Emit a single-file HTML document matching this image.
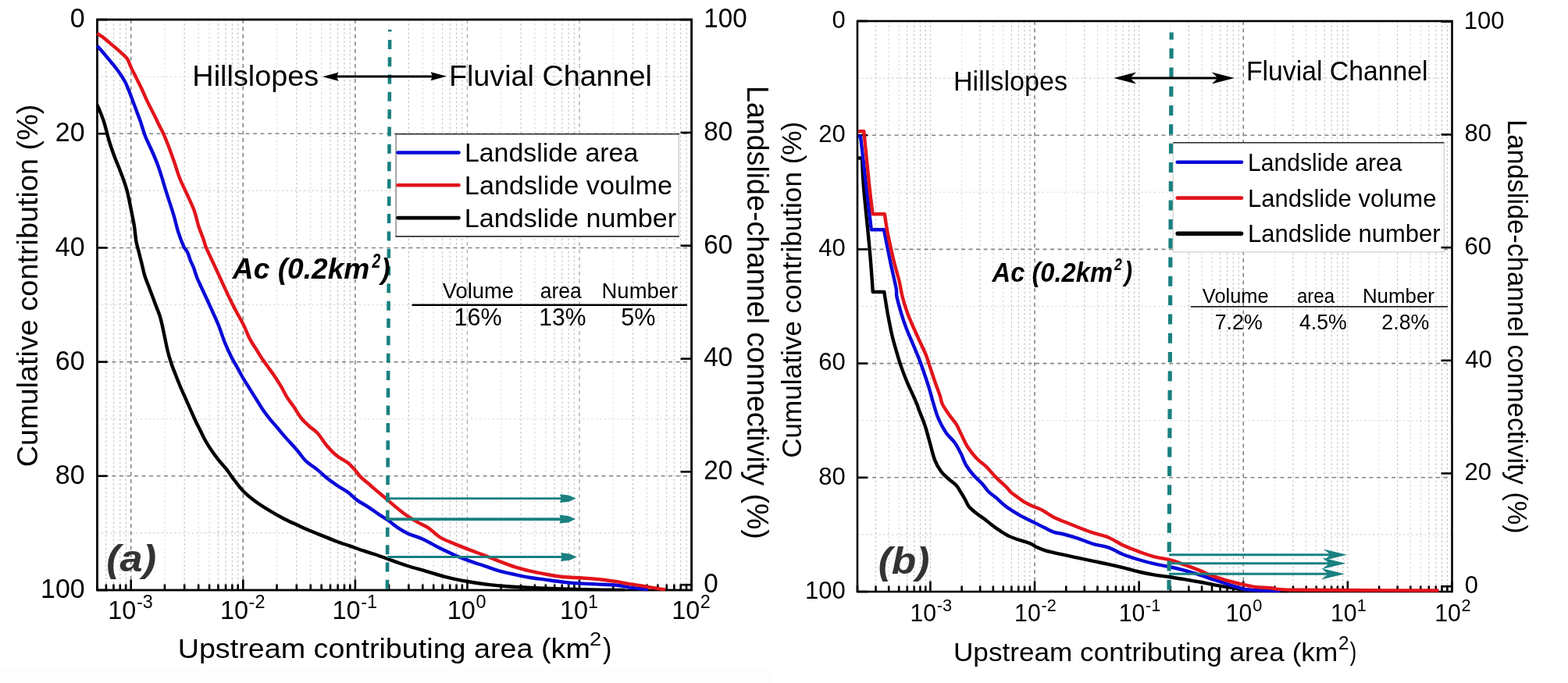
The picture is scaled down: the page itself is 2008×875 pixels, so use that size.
<!DOCTYPE html>
<html><head><meta charset="utf-8"><title>Cumulative contribution vs upstream contributing area</title>
<style>
html,body{margin:0;padding:0;background:#fff;overflow:hidden;width:2008px;height:875px;}
svg{display:block;font-family:"Liberation Sans",Arial,sans-serif;}
.gmin{stroke:#c0c0c0;stroke-width:1.1;stroke-dasharray:2.5 3;fill:none}
.gmin2{stroke:#e2e2e2;stroke-width:1.1;stroke-dasharray:2.5 3;fill:none}
.gmin45{stroke:#d6d6d6;stroke-width:1.1;stroke-dasharray:2.5 3;fill:none}
.gminh{stroke:#d8d8d8;stroke-width:1.1;stroke-dasharray:2.5 3;fill:none}
.gmajl{stroke:#b0b0b0;stroke-width:1.4;stroke-dasharray:5 4.5;fill:none}
.gmaj{stroke:#858585;stroke-width:1.6;stroke-dasharray:5 4.5;fill:none}
.tick{stroke:#000;stroke-width:2.6}
.frame{fill:none;stroke:#000;stroke-width:2.8}
</style></head><body>
<svg width="2008" height="875" viewBox="0 0 2008 875">
<defs>
<clipPath id="cA"><rect x="124.5" y="25.1" width="761.1" height="730.9"/></clipPath>
<clipPath id="cB"><rect x="1098.0" y="27.0" width="761.5" height="731.0"/></clipPath>
<clipPath id="cA2"><rect x="123.1" y="25.1" width="762.5" height="732.1"/></clipPath>
<clipPath id="cB2"><rect x="1096.6" y="27.0" width="762.9" height="732.2"/></clipPath>
</defs>
<rect width="2008" height="875" fill="#fff"/>
<rect x="0" y="854" width="987" height="21" fill="#fdfdfd"/>
<g clip-path="url(#cA)">
<line x1="124.5" y1="98.19" x2="885.6" y2="98.19" class="gminh"/>
<line x1="124.5" y1="244.37" x2="885.6" y2="244.37" class="gminh"/>
<line x1="124.5" y1="390.55" x2="885.6" y2="390.55" class="gminh"/>
<line x1="124.5" y1="536.73" x2="885.6" y2="536.73" class="gminh"/>
<line x1="124.5" y1="682.91" x2="885.6" y2="682.91" class="gminh"/>
<line x1="124.50" y1="25.1" x2="124.50" y2="756.0" class="gmin45"/>
<line x1="135.87" y1="25.1" x2="135.87" y2="756.0" class="gmin"/>
<line x1="145.48" y1="25.1" x2="145.48" y2="756.0" class="gmin"/>
<line x1="153.81" y1="25.1" x2="153.81" y2="756.0" class="gmin"/>
<line x1="161.15" y1="25.1" x2="161.15" y2="756.0" class="gmin"/>
<line x1="210.94" y1="25.1" x2="210.94" y2="756.0" class="gmin2"/>
<line x1="236.22" y1="25.1" x2="236.22" y2="756.0" class="gmin"/>
<line x1="254.16" y1="25.1" x2="254.16" y2="756.0" class="gmin45"/>
<line x1="268.08" y1="25.1" x2="268.08" y2="756.0" class="gmin45"/>
<line x1="279.44" y1="25.1" x2="279.44" y2="756.0" class="gmin"/>
<line x1="289.06" y1="25.1" x2="289.06" y2="756.0" class="gmin"/>
<line x1="297.38" y1="25.1" x2="297.38" y2="756.0" class="gmin"/>
<line x1="304.73" y1="25.1" x2="304.73" y2="756.0" class="gmin"/>
<line x1="354.52" y1="25.1" x2="354.52" y2="756.0" class="gmin2"/>
<line x1="379.80" y1="25.1" x2="379.80" y2="756.0" class="gmin"/>
<line x1="397.74" y1="25.1" x2="397.74" y2="756.0" class="gmin45"/>
<line x1="411.65" y1="25.1" x2="411.65" y2="756.0" class="gmin45"/>
<line x1="423.02" y1="25.1" x2="423.02" y2="756.0" class="gmin"/>
<line x1="432.63" y1="25.1" x2="432.63" y2="756.0" class="gmin"/>
<line x1="440.96" y1="25.1" x2="440.96" y2="756.0" class="gmin"/>
<line x1="448.30" y1="25.1" x2="448.30" y2="756.0" class="gmin"/>
<line x1="498.09" y1="25.1" x2="498.09" y2="756.0" class="gmin2"/>
<line x1="523.38" y1="25.1" x2="523.38" y2="756.0" class="gmin"/>
<line x1="541.31" y1="25.1" x2="541.31" y2="756.0" class="gmin45"/>
<line x1="555.23" y1="25.1" x2="555.23" y2="756.0" class="gmin45"/>
<line x1="566.60" y1="25.1" x2="566.60" y2="756.0" class="gmin"/>
<line x1="576.21" y1="25.1" x2="576.21" y2="756.0" class="gmin"/>
<line x1="584.53" y1="25.1" x2="584.53" y2="756.0" class="gmin"/>
<line x1="591.88" y1="25.1" x2="591.88" y2="756.0" class="gmin"/>
<line x1="641.67" y1="25.1" x2="641.67" y2="756.0" class="gmin2"/>
<line x1="666.95" y1="25.1" x2="666.95" y2="756.0" class="gmin"/>
<line x1="684.89" y1="25.1" x2="684.89" y2="756.0" class="gmin45"/>
<line x1="698.80" y1="25.1" x2="698.80" y2="756.0" class="gmin45"/>
<line x1="710.17" y1="25.1" x2="710.17" y2="756.0" class="gmin"/>
<line x1="719.78" y1="25.1" x2="719.78" y2="756.0" class="gmin"/>
<line x1="728.11" y1="25.1" x2="728.11" y2="756.0" class="gmin"/>
<line x1="735.45" y1="25.1" x2="735.45" y2="756.0" class="gmin"/>
<line x1="785.24" y1="25.1" x2="785.24" y2="756.0" class="gmin2"/>
<line x1="810.53" y1="25.1" x2="810.53" y2="756.0" class="gmin"/>
<line x1="828.47" y1="25.1" x2="828.47" y2="756.0" class="gmin45"/>
<line x1="842.38" y1="25.1" x2="842.38" y2="756.0" class="gmin45"/>
<line x1="853.75" y1="25.1" x2="853.75" y2="756.0" class="gmin"/>
<line x1="863.36" y1="25.1" x2="863.36" y2="756.0" class="gmin"/>
<line x1="871.69" y1="25.1" x2="871.69" y2="756.0" class="gmin"/>
<line x1="879.03" y1="25.1" x2="879.03" y2="756.0" class="gmin"/>
<line x1="124.5" y1="171.28" x2="885.6" y2="171.28" class="gmaj"/>
<line x1="124.5" y1="317.46" x2="885.6" y2="317.46" class="gmaj"/>
<line x1="124.5" y1="463.64" x2="885.6" y2="463.64" class="gmaj"/>
<line x1="124.5" y1="609.82" x2="885.6" y2="609.82" class="gmaj"/>
<line x1="167.72" y1="25.1" x2="167.72" y2="756.0" class="gmaj"/>
<line x1="311.30" y1="25.1" x2="311.30" y2="756.0" class="gmaj"/>
<line x1="454.87" y1="25.1" x2="454.87" y2="756.0" class="gmaj"/>
<line x1="598.45" y1="25.1" x2="598.45" y2="756.0" class="gmajl"/>
<line x1="742.02" y1="25.1" x2="742.02" y2="756.0" class="gmajl"/>
<line x1="885.60" y1="25.1" x2="885.60" y2="756.0" class="gmaj"/>
</g>
<rect x="507.1" y="171.7" width="362.3" height="131.2" fill="#fff"/>
<line x1="869.4" y1="171.7" x2="869.4" y2="302.9" stroke="#c8c8c8" stroke-width="1.3"/>
<line x1="507.1" y1="171.7" x2="507.1" y2="302.9" stroke="#8c8c8c" stroke-width="1.5"/>
<line x1="506.4" y1="171.7" x2="869.8" y2="171.7" stroke="#2a2a2a" stroke-width="1.6"/>
<line x1="506.4" y1="302.9" x2="869.8" y2="302.9" stroke="#333" stroke-width="1.7"/>
<rect class="frame" x="124.5" y="25.1" width="761.1" height="730.9"/>
<line x1="124.50" y1="756.0" x2="124.50" y2="748.50" class="tick"/>
<line x1="135.87" y1="756.0" x2="135.87" y2="748.50" class="tick"/>
<line x1="145.48" y1="756.0" x2="145.48" y2="748.50" class="tick"/>
<line x1="153.81" y1="756.0" x2="153.81" y2="748.50" class="tick"/>
<line x1="161.15" y1="756.0" x2="161.15" y2="748.50" class="tick"/>
<line x1="167.72" y1="756.0" x2="167.72" y2="742.50" class="tick"/>
<line x1="210.94" y1="756.0" x2="210.94" y2="748.50" class="tick"/>
<line x1="236.22" y1="756.0" x2="236.22" y2="748.50" class="tick"/>
<line x1="254.16" y1="756.0" x2="254.16" y2="748.50" class="tick"/>
<line x1="268.08" y1="756.0" x2="268.08" y2="748.50" class="tick"/>
<line x1="279.44" y1="756.0" x2="279.44" y2="748.50" class="tick"/>
<line x1="289.06" y1="756.0" x2="289.06" y2="748.50" class="tick"/>
<line x1="297.38" y1="756.0" x2="297.38" y2="748.50" class="tick"/>
<line x1="304.73" y1="756.0" x2="304.73" y2="748.50" class="tick"/>
<line x1="311.30" y1="756.0" x2="311.30" y2="742.50" class="tick"/>
<line x1="354.52" y1="756.0" x2="354.52" y2="748.50" class="tick"/>
<line x1="379.80" y1="756.0" x2="379.80" y2="748.50" class="tick"/>
<line x1="397.74" y1="756.0" x2="397.74" y2="748.50" class="tick"/>
<line x1="411.65" y1="756.0" x2="411.65" y2="748.50" class="tick"/>
<line x1="423.02" y1="756.0" x2="423.02" y2="748.50" class="tick"/>
<line x1="432.63" y1="756.0" x2="432.63" y2="748.50" class="tick"/>
<line x1="440.96" y1="756.0" x2="440.96" y2="748.50" class="tick"/>
<line x1="448.30" y1="756.0" x2="448.30" y2="748.50" class="tick"/>
<line x1="454.87" y1="756.0" x2="454.87" y2="742.50" class="tick"/>
<line x1="498.09" y1="756.0" x2="498.09" y2="748.50" class="tick"/>
<line x1="523.38" y1="756.0" x2="523.38" y2="748.50" class="tick"/>
<line x1="541.31" y1="756.0" x2="541.31" y2="748.50" class="tick"/>
<line x1="555.23" y1="756.0" x2="555.23" y2="748.50" class="tick"/>
<line x1="566.60" y1="756.0" x2="566.60" y2="748.50" class="tick"/>
<line x1="576.21" y1="756.0" x2="576.21" y2="748.50" class="tick"/>
<line x1="584.53" y1="756.0" x2="584.53" y2="748.50" class="tick"/>
<line x1="591.88" y1="756.0" x2="591.88" y2="748.50" class="tick"/>
<line x1="598.45" y1="756.0" x2="598.45" y2="742.50" class="tick"/>
<line x1="641.67" y1="756.0" x2="641.67" y2="748.50" class="tick"/>
<line x1="666.95" y1="756.0" x2="666.95" y2="748.50" class="tick"/>
<line x1="684.89" y1="756.0" x2="684.89" y2="748.50" class="tick"/>
<line x1="698.80" y1="756.0" x2="698.80" y2="748.50" class="tick"/>
<line x1="710.17" y1="756.0" x2="710.17" y2="748.50" class="tick"/>
<line x1="719.78" y1="756.0" x2="719.78" y2="748.50" class="tick"/>
<line x1="728.11" y1="756.0" x2="728.11" y2="748.50" class="tick"/>
<line x1="735.45" y1="756.0" x2="735.45" y2="748.50" class="tick"/>
<line x1="742.02" y1="756.0" x2="742.02" y2="742.50" class="tick"/>
<line x1="785.24" y1="756.0" x2="785.24" y2="748.50" class="tick"/>
<line x1="810.53" y1="756.0" x2="810.53" y2="748.50" class="tick"/>
<line x1="828.47" y1="756.0" x2="828.47" y2="748.50" class="tick"/>
<line x1="842.38" y1="756.0" x2="842.38" y2="748.50" class="tick"/>
<line x1="853.75" y1="756.0" x2="853.75" y2="748.50" class="tick"/>
<line x1="863.36" y1="756.0" x2="863.36" y2="748.50" class="tick"/>
<line x1="871.69" y1="756.0" x2="871.69" y2="748.50" class="tick"/>
<line x1="879.03" y1="756.0" x2="879.03" y2="748.50" class="tick"/>
<line x1="885.60" y1="756.0" x2="885.60" y2="742.50" class="tick"/>
<line x1="124.5" y1="25.10" x2="137.50" y2="25.10" class="tick"/>
<line x1="124.5" y1="171.28" x2="137.50" y2="171.28" class="tick"/>
<line x1="124.5" y1="317.46" x2="137.50" y2="317.46" class="tick"/>
<line x1="124.5" y1="463.64" x2="137.50" y2="463.64" class="tick"/>
<line x1="124.5" y1="609.82" x2="137.50" y2="609.82" class="tick"/>
<line x1="124.5" y1="756.00" x2="137.50" y2="756.00" class="tick"/>
<line x1="885.6" y1="25.10" x2="871.60" y2="25.10" class="tick"/>
<line x1="885.6" y1="169.90" x2="871.60" y2="169.90" class="tick"/>
<line x1="885.6" y1="314.70" x2="871.60" y2="314.70" class="tick"/>
<line x1="885.6" y1="459.60" x2="871.60" y2="459.60" class="tick"/>
<line x1="885.6" y1="604.40" x2="871.60" y2="604.40" class="tick"/>
<line x1="885.6" y1="749.20" x2="871.60" y2="749.20" class="tick"/>
<g clip-path="url(#cA2)">
<path d="M124.4,134.0 C124.4,134.0 128.4,143.3 130.0,147.5 C131.6,151.7 132.4,153.6 134.0,159.0 C135.6,164.4 137.6,173.3 139.6,180.0 C141.6,186.7 143.9,193.2 146.0,199.0 C148.1,204.8 150.3,209.5 152.4,215.0 C154.5,220.5 157.1,227.0 158.8,232.0 C160.5,237.0 161.6,240.3 162.8,244.8 C164.0,249.3 164.9,254.1 166.0,259.2 C167.1,264.3 168.2,270.1 169.2,275.2 C170.2,280.3 171.1,284.3 172.0,290.0 C172.9,295.7 173.5,303.9 174.4,309.2 C175.3,314.5 176.4,317.2 177.6,322.0 C178.8,326.8 180.3,332.7 181.6,338.0 C182.9,343.3 184.1,349.2 185.6,354.0 C187.1,358.8 188.8,362.5 190.4,366.8 C192.0,371.1 193.6,375.3 195.2,379.6 C196.8,383.9 198.4,388.1 200.0,392.4 C201.6,396.7 203.5,400.9 204.8,405.2 C206.1,409.5 207.1,414.0 208.0,418.0 C208.9,422.0 209.3,424.1 210.4,429.2 C211.5,434.3 213.1,442.8 214.5,448.7 C215.9,454.6 217.4,459.5 219.1,464.7 C220.8,469.9 222.8,474.8 224.8,480.0 C226.8,485.2 229.1,490.9 231.2,496.0 C233.3,501.1 235.5,505.6 237.6,510.4 C239.7,515.2 241.9,520.0 244.0,524.8 C246.1,529.6 248.3,534.7 250.4,539.2 C252.5,543.7 254.7,547.7 256.8,552.0 C258.9,556.3 260.8,560.5 263.2,564.8 C265.6,569.1 268.3,573.3 271.2,577.6 C274.1,581.9 277.6,586.4 280.8,590.4 C284.0,594.4 287.5,597.9 290.4,601.6 C293.3,605.3 294.9,608.3 298.4,612.8 C301.8,617.3 306.2,623.7 311.1,628.7 C316.0,633.8 322.4,638.9 328.0,643.1 C333.6,647.3 338.7,650.3 344.7,653.9 C350.7,657.5 358.0,661.6 363.9,664.7 C369.8,667.8 374.5,669.8 380.0,672.3 C385.5,674.8 391.4,677.6 397.1,680.0 C402.8,682.4 408.6,684.6 414.3,686.9 C420.0,689.2 425.7,691.6 431.4,693.7 C437.1,695.8 442.9,697.7 448.6,699.7 C454.3,701.7 460.6,704.0 465.7,705.7 C470.8,707.4 474.3,708.3 479.4,710.0 C484.5,711.7 489.6,713.6 496.5,716.0 C503.4,718.4 511.7,721.7 520.5,724.5 C529.3,727.3 541.4,730.5 549.4,732.9 C557.4,735.3 562.3,737.0 568.8,738.7 C575.3,740.4 581.8,741.9 588.3,743.2 C594.8,744.5 601.2,745.5 607.7,746.5 C614.2,747.5 620.6,748.4 627.1,749.1 C633.6,749.9 640.0,750.5 646.5,751.0 C653.0,751.5 658.6,751.9 666.0,752.3 C673.4,752.7 681.9,753.1 690.9,753.5 C699.9,753.9 708.5,754.2 720.0,754.5 C731.5,754.8 746.7,755.2 760.0,755.5 C773.3,755.8 800.0,756.0 800.0,756.0" fill="none" stroke="#000" stroke-width="4.4" stroke-linejoin="round" stroke-linecap="butt"/>
<path d="M124.4,58.8 C124.4,58.8 129.1,63.9 131.6,66.8 C134.1,69.7 136.9,73.2 139.6,76.4 C142.3,79.6 144.9,82.5 147.6,86.0 C150.3,89.5 153.3,93.7 155.6,97.2 C157.9,100.7 161.2,106.8 161.2,106.8 C161.2,106.8 163.7,112.7 165.2,116.4 C166.7,120.1 168.4,124.9 170.0,129.2 C171.6,133.5 173.2,137.7 174.8,142.0 C176.4,146.3 177.7,149.4 179.6,154.8 C181.5,160.2 183.6,168.2 186.0,174.4 C188.4,180.6 191.3,185.9 194.0,192.0 C196.7,198.1 199.9,205.6 202.0,211.2 C204.1,216.8 205.2,220.5 206.8,225.6 C208.4,230.7 209.9,236.0 211.6,241.6 C213.3,247.2 215.3,253.3 217.2,259.2 C219.1,265.1 220.9,270.4 222.8,276.8 C224.7,283.2 226.3,291.1 228.4,297.6 C230.5,304.1 233.3,311.4 235.2,315.6 C237.1,319.8 238.5,319.9 240.0,323.0 C241.5,326.1 242.7,330.7 244.0,334.0 C245.3,337.3 246.7,339.5 248.0,343.0 C249.3,346.5 250.7,351.5 252.0,355.0 C253.3,358.5 254.0,359.6 256.0,364.0 C258.0,368.4 261.3,375.4 264.0,381.2 C266.7,387.0 269.3,392.8 272.0,398.8 C274.7,404.8 277.3,410.3 280.0,417.0 C282.7,423.7 285.3,432.6 288.0,439.2 C290.7,445.8 293.3,451.5 296.0,456.8 C298.7,462.1 301.3,466.4 304.0,471.2 C306.7,476.0 309.3,481.1 312.0,485.6 C314.7,490.1 317.3,494.1 320.0,498.4 C322.7,502.7 325.3,506.9 328.0,511.2 C330.7,515.5 333.1,519.7 336.0,524.0 C338.9,528.3 342.4,532.8 345.6,536.8 C348.8,540.8 352.3,544.5 355.2,548.0 C358.1,551.5 359.1,552.9 363.2,557.6 C367.3,562.3 375.2,570.8 380.0,576.3 C384.8,581.8 387.7,586.8 392.0,590.9 C396.3,595.0 401.1,597.4 405.7,601.1 C410.3,604.8 415.1,609.7 419.4,613.1 C423.7,616.5 427.1,618.8 431.4,621.7 C435.7,624.6 440.8,627.1 445.1,630.3 C449.4,633.4 452.8,637.5 457.1,640.6 C461.4,643.7 466.3,646.1 470.9,649.1 C475.5,652.1 480.3,655.7 484.6,658.6 C488.9,661.5 492.3,663.3 496.6,666.3 C500.9,669.3 506.0,673.8 510.3,676.6 C514.6,679.5 516.8,680.9 522.3,683.4 C527.8,685.9 536.3,688.3 543.0,691.4 C549.7,694.5 555.9,698.5 562.4,701.8 C568.9,705.0 575.3,708.1 581.8,710.9 C588.3,713.7 594.7,716.2 601.2,718.6 C607.7,721.0 614.1,722.9 620.6,725.1 C627.1,727.3 633.6,729.8 640.1,731.6 C646.6,733.4 653.0,734.7 659.5,736.1 C666.0,737.5 672.4,738.9 678.9,740.0 C685.4,741.1 691.8,741.7 698.3,742.6 C704.8,743.5 711.3,744.5 717.8,745.2 C724.3,746.0 729.7,746.6 737.2,747.1 C744.8,747.6 754.3,748.0 763.1,748.4 C771.9,748.8 783.3,749.1 790.0,749.7 C796.7,750.3 798.4,751.3 803.4,752.1 C808.4,752.9 815.5,753.7 819.9,754.3 C824.3,754.9 830.0,755.5 830.0,755.5" fill="none" stroke="#0a0ad8" stroke-width="4.4" stroke-linejoin="round" stroke-linecap="butt"/>
<path d="M124.4,42.8 C124.4,42.8 128.8,45.5 131.6,47.6 C134.4,49.7 138.0,52.9 141.2,55.6 C144.4,58.3 147.7,60.9 150.8,63.6 C153.9,66.3 159.6,71.6 159.6,71.6 C159.6,71.6 162.1,73.7 163.6,76.4 C165.1,79.1 166.5,83.6 168.4,87.6 C170.3,91.6 172.7,96.1 174.8,100.4 C176.9,104.7 179.1,108.7 181.2,113.2 C183.3,117.7 185.5,123.1 187.6,127.6 C189.7,132.1 191.9,136.1 194.0,140.4 C196.1,144.7 198.8,149.9 200.4,153.2 C202.0,156.5 202.0,156.7 203.6,160.0 C205.2,163.3 207.9,168.0 210.0,172.8 C212.1,177.6 214.3,183.2 216.4,188.8 C218.5,194.4 220.5,199.9 222.8,206.4 C225.1,212.9 227.2,220.9 230.0,228.0 C232.8,235.1 236.3,241.8 239.4,248.7 C242.5,255.6 246.0,262.4 248.5,269.3 C251.0,276.2 252.5,284.1 254.4,290.0 C256.3,295.9 258.4,300.5 260.0,305.0 C261.6,309.5 261.7,311.7 264.0,317.2 C266.3,322.7 270.4,331.1 273.6,338.0 C276.8,344.9 280.0,351.9 283.2,358.8 C286.4,365.7 289.6,372.9 292.8,379.6 C296.0,386.3 299.2,392.7 302.4,398.8 C305.6,404.9 309.1,410.5 312.0,416.4 C314.9,422.3 317.3,429.3 320.0,434.4 C322.7,439.5 325.3,442.9 328.0,447.2 C330.7,451.5 333.3,456.0 336.0,460.0 C338.7,464.0 341.3,467.5 344.0,471.2 C346.7,474.9 349.3,478.4 352.0,482.4 C354.7,486.4 357.3,490.7 360.0,495.2 C362.7,499.7 365.3,505.3 368.0,509.6 C370.7,513.9 373.0,516.4 376.0,520.8 C379.0,525.2 382.6,531.8 386.0,536.0 C389.4,540.2 392.9,543.1 396.3,546.3 C399.7,549.4 402.8,550.6 406.6,554.9 C410.5,559.2 415.3,567.1 419.4,572.0 C423.5,576.9 427.1,580.6 431.4,584.0 C435.7,587.4 441.4,589.8 445.1,592.6 C448.8,595.5 450.8,598.0 453.7,601.1 C456.6,604.2 458.9,608.0 462.3,611.4 C465.7,614.8 470.3,618.3 474.3,621.7 C478.3,625.1 482.6,628.9 486.3,632.0 C490.0,635.1 492.9,637.5 496.6,640.6 C500.3,643.8 504.6,647.6 508.6,650.9 C512.6,654.2 516.2,657.2 520.6,660.3 C525.0,663.3 530.4,666.6 535.0,669.2 C539.6,671.8 543.3,672.7 548.0,675.8 C552.7,678.9 557.4,684.5 563.0,688.0 C568.6,691.5 575.4,693.9 581.8,696.6 C588.2,699.3 594.7,701.9 601.2,704.4 C607.7,706.9 614.1,709.0 620.6,711.5 C627.1,714.0 633.6,716.8 640.1,719.3 C646.6,721.8 653.0,724.3 659.5,726.4 C666.0,728.5 672.4,730.1 678.9,731.6 C685.4,733.1 691.8,734.3 698.3,735.5 C704.8,736.7 711.3,738.0 717.8,738.7 C724.3,739.5 730.7,739.6 737.2,740.0 C743.7,740.4 750.1,740.8 756.6,741.3 C763.1,741.8 770.4,742.6 776.0,743.2 C781.6,743.9 785.7,744.5 790.0,745.2 C794.3,745.9 797.9,746.8 802.0,747.5 C806.1,748.2 809.6,748.5 814.4,749.3 C819.2,750.1 825.9,751.3 830.9,752.1 C835.9,752.9 841.1,753.7 844.6,754.3 C848.1,754.9 852.0,755.5 852.0,755.5" fill="none" stroke="#e2141b" stroke-width="4.4" stroke-linejoin="round" stroke-linecap="butt"/>
</g>
<line x1="499.2" y1="38" x2="495.9" y2="756" stroke="#1a8080" stroke-width="4.6" stroke-dasharray="12 10.32" stroke-dashoffset="9.42"/>
<line x1="496" y1="638.6" x2="725.5" y2="638.6" stroke="#1a8080" stroke-width="2.9"/>
<polygon points="737.5,638.6 728.5,634.4 717.0,633.2 718.5,638.6 717.0,644.0 728.5,642.8" fill="#1a8080"/>
<line x1="496" y1="665.1" x2="725.0" y2="665.1" stroke="#1a8080" stroke-width="3.8"/>
<polygon points="737.0,665.1 728.0,660.9 716.5,659.7 718.0,665.1 716.5,670.5 728.0,669.3" fill="#1a8080"/>
<line x1="496" y1="713.6" x2="726.6" y2="713.6" stroke="#1a8080" stroke-width="3.0"/>
<polygon points="738.6,713.6 729.6,709.4 718.1,708.2 719.6,713.6 718.1,719.0 729.6,717.8" fill="#1a8080"/>
<line x1="509.5" y1="195.5" x2="587.5" y2="195.5" stroke="#0a0ad8" stroke-width="4.6" stroke-linecap="round"/>
<line x1="509.5" y1="237.3" x2="587.5" y2="237.3" stroke="#e2141b" stroke-width="4.6" stroke-linecap="round"/>
<line x1="509.5" y1="279.1" x2="587.5" y2="279.1" stroke="#000" stroke-width="4.6" stroke-linecap="round"/>
<text x="594.89" y="207.20" font-size="34" textLength="222.44" lengthAdjust="spacingAndGlyphs">Landslide area</text>
<text x="594.86" y="248.60" font-size="34" textLength="266.28" lengthAdjust="spacingAndGlyphs">Landslide voulme</text>
<text x="594.87" y="290.50" font-size="34" textLength="271.31" lengthAdjust="spacingAndGlyphs">Landslide number</text>
<text x="246.37" y="110.00" font-size="37.8" textLength="161.93" lengthAdjust="spacingAndGlyphs">Hillslopes</text>
<text x="574.88" y="110.20" font-size="37.7" textLength="260.08" lengthAdjust="spacingAndGlyphs">Fluvial Channel</text>
<line x1="425" y1="97.9" x2="560" y2="97.9" stroke="#000" stroke-width="3"/>
<polygon points="413.0,98.3 433.5,92.8 431.0,98.3 433.5,103.8" fill="#000"/>
<polygon points="572.0,97.7 551.5,92.2 554.0,97.7 551.5,103.2" fill="#000"/>
<text x="297.84" y="357.30" font-size="37.5" font-weight="bold" font-style="italic" textLength="175.53" lengthAdjust="spacingAndGlyphs">Ac (0.2km</text>
<text x="476.59" y="342.50" font-size="25.142857142857178" font-weight="bold" font-style="italic" textLength="10.83" lengthAdjust="spacingAndGlyphs">2</text>
<text x="487.99" y="357.15" font-size="36.898395721925134" font-weight="bold" font-style="italic" textLength="11.70" lengthAdjust="spacingAndGlyphs">)</text>
<text x="566.86" y="382.30" font-size="27" textLength="91.08" lengthAdjust="spacingAndGlyphs">Volume</text>
<text x="691.81" y="382.30" font-size="27" textLength="53.03" lengthAdjust="spacingAndGlyphs">area</text>
<text x="770.50" y="382.30" font-size="27" textLength="97.76" lengthAdjust="spacingAndGlyphs">Number</text>
<line x1="527.6" y1="390.7" x2="880" y2="390.7" stroke="#000" stroke-width="2.6"/>
<text x="581.51" y="417.20" font-size="30.5" textLength="61.10" lengthAdjust="spacingAndGlyphs">16%</text>
<text x="690.25" y="417.20" font-size="30.5" textLength="60.15" lengthAdjust="spacingAndGlyphs">13%</text>
<text x="795.18" y="417.20" font-size="30.5" textLength="44.20" lengthAdjust="spacingAndGlyphs">5%</text>
<text x="136.17" y="732.14" font-size="48.87700534759351" font-weight="bold" font-style="italic" textLength="63.96" lengthAdjust="spacingAndGlyphs" fill="#333">(a)</text>
<text x="89.72" y="35.17" font-size="35" textLength="18.88" lengthAdjust="spacingAndGlyphs">0</text>
<text x="70.87" y="181.35" font-size="35" textLength="37.76" lengthAdjust="spacingAndGlyphs">20</text>
<text x="70.87" y="327.54" font-size="35" textLength="37.76" lengthAdjust="spacingAndGlyphs">40</text>
<text x="70.87" y="473.71" font-size="35" textLength="37.76" lengthAdjust="spacingAndGlyphs">60</text>
<text x="70.87" y="619.90" font-size="35" textLength="37.76" lengthAdjust="spacingAndGlyphs">80</text>
<text x="52.03" y="766.08" font-size="35" textLength="56.65" lengthAdjust="spacingAndGlyphs">100</text>
<text x="901.30" y="34.98" font-size="35" textLength="55.48" lengthAdjust="spacingAndGlyphs">100</text>
<text x="901.30" y="179.78" font-size="35" textLength="36.99" lengthAdjust="spacingAndGlyphs">80</text>
<text x="901.30" y="324.57" font-size="35" textLength="36.99" lengthAdjust="spacingAndGlyphs">60</text>
<text x="901.30" y="469.48" font-size="35" textLength="36.99" lengthAdjust="spacingAndGlyphs">40</text>
<text x="901.30" y="614.27" font-size="35" textLength="36.99" lengthAdjust="spacingAndGlyphs">20</text>
<text x="901.30" y="759.08" font-size="35" textLength="18.49" lengthAdjust="spacingAndGlyphs">0</text>
<text x="138.27" y="792.90" font-size="34" textLength="36.12" lengthAdjust="spacingAndGlyphs">10</text><text x="174.96" y="779.40" font-size="23.4">-3</text>
<text x="281.91" y="792.90" font-size="34" textLength="36.12" lengthAdjust="spacingAndGlyphs">10</text><text x="318.60" y="779.40" font-size="23.4">-2</text>
<text x="425.48" y="792.90" font-size="34" textLength="36.12" lengthAdjust="spacingAndGlyphs">10</text><text x="462.17" y="779.40" font-size="23.4">-1</text>
<text x="572.80" y="792.90" font-size="34" textLength="36.12" lengthAdjust="spacingAndGlyphs">10</text><text x="609.61" y="779.40" font-size="23.4">0</text>
<text x="716.90" y="792.90" font-size="34" textLength="36.12" lengthAdjust="spacingAndGlyphs">10</text><text x="752.89" y="779.40" font-size="23.4">1</text>
<text x="860.19" y="792.90" font-size="34" textLength="36.12" lengthAdjust="spacingAndGlyphs">10</text><text x="896.76" y="779.40" font-size="23.4">2</text>
<text x="227.67" y="843.00" font-size="35.5" textLength="528.21" lengthAdjust="spacingAndGlyphs">Upstream contributing area (km</text>
<text x="755.04" y="826.90" font-size="23.4285714285714" textLength="15.16" lengthAdjust="spacingAndGlyphs">2</text>
<text x="771.95" y="843.21" font-size="36.14973262032081" textLength="11.53" lengthAdjust="spacingAndGlyphs">)</text>
<text x="-1.89" y="0.00" font-size="37.8" textLength="464.78" lengthAdjust="spacingAndGlyphs" transform="translate(47.8,596.5) rotate(-90)">Cumulative contribution (%)</text>
<text x="-3.01" y="0.00" font-size="39" textLength="580.88" lengthAdjust="spacingAndGlyphs" transform="translate(957.2,113) rotate(90)">Landslide-channel connectivity (%)</text>
<g clip-path="url(#cB)">
<line x1="1098.0" y1="100.10" x2="1859.5" y2="100.10" class="gminh"/>
<line x1="1098.0" y1="246.30" x2="1859.5" y2="246.30" class="gminh"/>
<line x1="1098.0" y1="392.50" x2="1859.5" y2="392.50" class="gminh"/>
<line x1="1098.0" y1="538.70" x2="1859.5" y2="538.70" class="gminh"/>
<line x1="1098.0" y1="684.90" x2="1859.5" y2="684.90" class="gminh"/>
<line x1="1098.00" y1="27.0" x2="1098.00" y2="758.0" class="gmin2"/>
<line x1="1121.53" y1="27.0" x2="1121.53" y2="758.0" class="gmin"/>
<line x1="1138.22" y1="27.0" x2="1138.22" y2="758.0" class="gmin45"/>
<line x1="1151.17" y1="27.0" x2="1151.17" y2="758.0" class="gmin45"/>
<line x1="1161.75" y1="27.0" x2="1161.75" y2="758.0" class="gmin"/>
<line x1="1170.70" y1="27.0" x2="1170.70" y2="758.0" class="gmin"/>
<line x1="1178.45" y1="27.0" x2="1178.45" y2="758.0" class="gmin"/>
<line x1="1185.28" y1="27.0" x2="1185.28" y2="758.0" class="gmin"/>
<line x1="1191.40" y1="27.0" x2="1191.40" y2="758.0" class="gmin"/>
<line x1="1231.62" y1="27.0" x2="1231.62" y2="758.0" class="gmin2"/>
<line x1="1255.15" y1="27.0" x2="1255.15" y2="758.0" class="gmin"/>
<line x1="1271.84" y1="27.0" x2="1271.84" y2="758.0" class="gmin45"/>
<line x1="1284.79" y1="27.0" x2="1284.79" y2="758.0" class="gmin45"/>
<line x1="1295.37" y1="27.0" x2="1295.37" y2="758.0" class="gmin"/>
<line x1="1304.32" y1="27.0" x2="1304.32" y2="758.0" class="gmin"/>
<line x1="1312.07" y1="27.0" x2="1312.07" y2="758.0" class="gmin"/>
<line x1="1318.90" y1="27.0" x2="1318.90" y2="758.0" class="gmin"/>
<line x1="1365.24" y1="27.0" x2="1365.24" y2="758.0" class="gmin2"/>
<line x1="1388.77" y1="27.0" x2="1388.77" y2="758.0" class="gmin"/>
<line x1="1405.47" y1="27.0" x2="1405.47" y2="758.0" class="gmin45"/>
<line x1="1418.41" y1="27.0" x2="1418.41" y2="758.0" class="gmin45"/>
<line x1="1428.99" y1="27.0" x2="1428.99" y2="758.0" class="gmin"/>
<line x1="1437.94" y1="27.0" x2="1437.94" y2="758.0" class="gmin"/>
<line x1="1445.69" y1="27.0" x2="1445.69" y2="758.0" class="gmin"/>
<line x1="1452.52" y1="27.0" x2="1452.52" y2="758.0" class="gmin"/>
<line x1="1458.64" y1="27.0" x2="1458.64" y2="758.0" class="gmin"/>
<line x1="1498.86" y1="27.0" x2="1498.86" y2="758.0" class="gmin2"/>
<line x1="1522.39" y1="27.0" x2="1522.39" y2="758.0" class="gmin"/>
<line x1="1539.09" y1="27.0" x2="1539.09" y2="758.0" class="gmin45"/>
<line x1="1552.03" y1="27.0" x2="1552.03" y2="758.0" class="gmin45"/>
<line x1="1562.62" y1="27.0" x2="1562.62" y2="758.0" class="gmin"/>
<line x1="1571.56" y1="27.0" x2="1571.56" y2="758.0" class="gmin"/>
<line x1="1579.31" y1="27.0" x2="1579.31" y2="758.0" class="gmin"/>
<line x1="1586.14" y1="27.0" x2="1586.14" y2="758.0" class="gmin"/>
<line x1="1632.48" y1="27.0" x2="1632.48" y2="758.0" class="gmin2"/>
<line x1="1656.01" y1="27.0" x2="1656.01" y2="758.0" class="gmin"/>
<line x1="1672.71" y1="27.0" x2="1672.71" y2="758.0" class="gmin45"/>
<line x1="1685.66" y1="27.0" x2="1685.66" y2="758.0" class="gmin45"/>
<line x1="1696.24" y1="27.0" x2="1696.24" y2="758.0" class="gmin"/>
<line x1="1705.18" y1="27.0" x2="1705.18" y2="758.0" class="gmin"/>
<line x1="1712.93" y1="27.0" x2="1712.93" y2="758.0" class="gmin"/>
<line x1="1719.77" y1="27.0" x2="1719.77" y2="758.0" class="gmin"/>
<line x1="1725.88" y1="27.0" x2="1725.88" y2="758.0" class="gmin"/>
<line x1="1766.10" y1="27.0" x2="1766.10" y2="758.0" class="gmin2"/>
<line x1="1789.63" y1="27.0" x2="1789.63" y2="758.0" class="gmin"/>
<line x1="1806.33" y1="27.0" x2="1806.33" y2="758.0" class="gmin45"/>
<line x1="1819.28" y1="27.0" x2="1819.28" y2="758.0" class="gmin45"/>
<line x1="1829.86" y1="27.0" x2="1829.86" y2="758.0" class="gmin"/>
<line x1="1838.80" y1="27.0" x2="1838.80" y2="758.0" class="gmin"/>
<line x1="1846.55" y1="27.0" x2="1846.55" y2="758.0" class="gmin"/>
<line x1="1853.39" y1="27.0" x2="1853.39" y2="758.0" class="gmin"/>
<line x1="1859.50" y1="27.0" x2="1859.50" y2="758.0" class="gmin"/>
<line x1="1098.0" y1="173.20" x2="1859.5" y2="173.20" class="gmaj"/>
<line x1="1098.0" y1="319.40" x2="1859.5" y2="319.40" class="gmaj"/>
<line x1="1098.0" y1="465.60" x2="1859.5" y2="465.60" class="gmaj"/>
<line x1="1098.0" y1="611.80" x2="1859.5" y2="611.80" class="gmaj"/>
<line x1="1325.02" y1="27.0" x2="1325.02" y2="758.0" class="gmaj"/>
<line x1="1592.26" y1="27.0" x2="1592.26" y2="758.0" class="gmaj"/>
</g>
<rect x="1502.2" y="182.7" width="347.2" height="140.1" fill="#fff" stroke="#cfcfcf" stroke-width="1.2"/>
<line x1="1502.2" y1="182.7" x2="1849.4" y2="182.7" stroke="#2a2a2a" stroke-width="1.6"/>
<rect class="frame" x="1098.0" y="27.0" width="761.5" height="731.0" style="stroke-width:2.6"/>
<line x1="1098.00" y1="758.0" x2="1098.00" y2="750.50" class="tick"/>
<line x1="1121.53" y1="758.0" x2="1121.53" y2="750.50" class="tick"/>
<line x1="1138.22" y1="758.0" x2="1138.22" y2="750.50" class="tick"/>
<line x1="1151.17" y1="758.0" x2="1151.17" y2="750.50" class="tick"/>
<line x1="1161.75" y1="758.0" x2="1161.75" y2="750.50" class="tick"/>
<line x1="1170.70" y1="758.0" x2="1170.70" y2="750.50" class="tick"/>
<line x1="1178.45" y1="758.0" x2="1178.45" y2="750.50" class="tick"/>
<line x1="1185.28" y1="758.0" x2="1185.28" y2="750.50" class="tick"/>
<line x1="1191.40" y1="758.0" x2="1191.40" y2="744.50" class="tick"/>
<line x1="1231.62" y1="758.0" x2="1231.62" y2="750.50" class="tick"/>
<line x1="1255.15" y1="758.0" x2="1255.15" y2="750.50" class="tick"/>
<line x1="1271.84" y1="758.0" x2="1271.84" y2="750.50" class="tick"/>
<line x1="1284.79" y1="758.0" x2="1284.79" y2="750.50" class="tick"/>
<line x1="1295.37" y1="758.0" x2="1295.37" y2="750.50" class="tick"/>
<line x1="1304.32" y1="758.0" x2="1304.32" y2="750.50" class="tick"/>
<line x1="1312.07" y1="758.0" x2="1312.07" y2="750.50" class="tick"/>
<line x1="1318.90" y1="758.0" x2="1318.90" y2="750.50" class="tick"/>
<line x1="1325.02" y1="758.0" x2="1325.02" y2="744.50" class="tick"/>
<line x1="1365.24" y1="758.0" x2="1365.24" y2="750.50" class="tick"/>
<line x1="1388.77" y1="758.0" x2="1388.77" y2="750.50" class="tick"/>
<line x1="1405.47" y1="758.0" x2="1405.47" y2="750.50" class="tick"/>
<line x1="1418.41" y1="758.0" x2="1418.41" y2="750.50" class="tick"/>
<line x1="1428.99" y1="758.0" x2="1428.99" y2="750.50" class="tick"/>
<line x1="1437.94" y1="758.0" x2="1437.94" y2="750.50" class="tick"/>
<line x1="1445.69" y1="758.0" x2="1445.69" y2="750.50" class="tick"/>
<line x1="1452.52" y1="758.0" x2="1452.52" y2="750.50" class="tick"/>
<line x1="1458.64" y1="758.0" x2="1458.64" y2="744.50" class="tick"/>
<line x1="1498.86" y1="758.0" x2="1498.86" y2="750.50" class="tick"/>
<line x1="1522.39" y1="758.0" x2="1522.39" y2="750.50" class="tick"/>
<line x1="1539.09" y1="758.0" x2="1539.09" y2="750.50" class="tick"/>
<line x1="1552.03" y1="758.0" x2="1552.03" y2="750.50" class="tick"/>
<line x1="1562.62" y1="758.0" x2="1562.62" y2="750.50" class="tick"/>
<line x1="1571.56" y1="758.0" x2="1571.56" y2="750.50" class="tick"/>
<line x1="1579.31" y1="758.0" x2="1579.31" y2="750.50" class="tick"/>
<line x1="1586.14" y1="758.0" x2="1586.14" y2="750.50" class="tick"/>
<line x1="1592.26" y1="758.0" x2="1592.26" y2="744.50" class="tick"/>
<line x1="1632.48" y1="758.0" x2="1632.48" y2="750.50" class="tick"/>
<line x1="1656.01" y1="758.0" x2="1656.01" y2="750.50" class="tick"/>
<line x1="1672.71" y1="758.0" x2="1672.71" y2="750.50" class="tick"/>
<line x1="1685.66" y1="758.0" x2="1685.66" y2="750.50" class="tick"/>
<line x1="1696.24" y1="758.0" x2="1696.24" y2="750.50" class="tick"/>
<line x1="1705.18" y1="758.0" x2="1705.18" y2="750.50" class="tick"/>
<line x1="1712.93" y1="758.0" x2="1712.93" y2="750.50" class="tick"/>
<line x1="1719.77" y1="758.0" x2="1719.77" y2="750.50" class="tick"/>
<line x1="1725.88" y1="758.0" x2="1725.88" y2="744.50" class="tick"/>
<line x1="1766.10" y1="758.0" x2="1766.10" y2="750.50" class="tick"/>
<line x1="1789.63" y1="758.0" x2="1789.63" y2="750.50" class="tick"/>
<line x1="1806.33" y1="758.0" x2="1806.33" y2="750.50" class="tick"/>
<line x1="1819.28" y1="758.0" x2="1819.28" y2="750.50" class="tick"/>
<line x1="1829.86" y1="758.0" x2="1829.86" y2="750.50" class="tick"/>
<line x1="1838.80" y1="758.0" x2="1838.80" y2="750.50" class="tick"/>
<line x1="1846.55" y1="758.0" x2="1846.55" y2="750.50" class="tick"/>
<line x1="1853.39" y1="758.0" x2="1853.39" y2="750.50" class="tick"/>
<line x1="1859.50" y1="758.0" x2="1859.50" y2="744.50" class="tick"/>
<line x1="1098.0" y1="27.00" x2="1111.00" y2="27.00" class="tick"/>
<line x1="1098.0" y1="173.20" x2="1111.00" y2="173.20" class="tick"/>
<line x1="1098.0" y1="319.40" x2="1111.00" y2="319.40" class="tick"/>
<line x1="1098.0" y1="465.60" x2="1111.00" y2="465.60" class="tick"/>
<line x1="1098.0" y1="611.80" x2="1111.00" y2="611.80" class="tick"/>
<line x1="1098.0" y1="758.00" x2="1111.00" y2="758.00" class="tick"/>
<line x1="1859.5" y1="27.70" x2="1845.50" y2="27.70" class="tick"/>
<line x1="1859.5" y1="172.40" x2="1845.50" y2="172.40" class="tick"/>
<line x1="1859.5" y1="317.10" x2="1845.50" y2="317.10" class="tick"/>
<line x1="1859.5" y1="461.80" x2="1845.50" y2="461.80" class="tick"/>
<line x1="1859.5" y1="606.50" x2="1845.50" y2="606.50" class="tick"/>
<line x1="1859.5" y1="751.20" x2="1845.50" y2="751.20" class="tick"/>
<g clip-path="url(#cB2)">
<path d="M1099.1,202.5 C1099.1,202.5 1104.0,202.5 1104.0,202.5 C1104.0,202.5 1104.6,222.9 1106.0,240.0 C1107.4,257.1 1110.8,288.9 1112.3,305.0 C1113.8,321.1 1114.2,325.0 1115.1,336.5 C1116.0,348.0 1117.8,374.0 1117.8,374.0 C1117.8,374.0 1132.4,374.0 1132.4,374.0 C1132.4,374.0 1132.4,375.0 1133.2,380.0 C1134.0,385.0 1135.7,396.0 1137.2,404.0 C1138.7,412.0 1140.3,420.5 1142.0,428.0 C1143.7,435.5 1145.6,441.9 1147.6,448.8 C1149.6,455.7 1151.6,462.7 1154.0,469.6 C1156.4,476.5 1159.3,484.0 1162.0,490.4 C1164.7,496.8 1167.9,503.2 1170.0,508.0 C1172.1,512.8 1173.7,516.5 1174.8,519.2 C1175.9,521.9 1174.8,519.7 1176.4,524.0 C1178.0,528.3 1182.0,537.6 1184.4,544.8 C1186.8,552.0 1188.7,559.7 1190.8,567.2 C1192.9,574.7 1194.8,583.5 1197.2,589.6 C1199.6,595.7 1202.3,600.0 1205.2,604.0 C1208.1,608.0 1211.6,610.7 1214.8,613.6 C1218.0,616.5 1221.7,618.7 1224.4,621.6 C1227.1,624.5 1228.9,628.3 1230.8,631.2 C1232.7,634.1 1234.2,636.7 1235.6,639.2 C1237.0,641.7 1238.1,644.5 1239.2,646.4 C1240.3,648.3 1240.4,648.7 1242.3,650.6 C1244.2,652.5 1247.5,655.4 1250.6,657.8 C1253.7,660.2 1257.4,662.4 1260.8,665.0 C1264.2,667.6 1267.7,670.6 1271.1,673.2 C1274.5,675.8 1278.0,678.2 1281.4,680.4 C1284.8,682.6 1288.3,684.9 1291.7,686.6 C1295.1,688.3 1298.6,689.5 1302.0,690.7 C1305.4,691.9 1309.2,692.8 1312.3,693.8 C1315.4,694.8 1317.9,695.6 1320.5,696.8 C1323.1,698.0 1324.8,699.6 1327.7,701.0 C1330.6,702.4 1334.3,703.9 1338.0,705.1 C1341.7,706.3 1347.9,707.6 1350.0,708.1 C1352.1,708.6 1346.5,707.3 1350.8,708.3 C1355.1,709.2 1367.8,712.0 1376.0,713.8 C1384.2,715.6 1392.8,717.4 1400.0,718.9 C1407.2,720.4 1412.9,721.4 1419.4,722.8 C1425.9,724.2 1432.3,725.7 1438.8,727.3 C1445.3,728.9 1451.8,731.0 1458.3,732.5 C1464.8,734.0 1471.2,735.3 1477.7,736.4 C1484.2,737.5 1490.6,738.0 1497.1,739.0 C1503.6,740.0 1510.0,741.1 1516.5,742.2 C1523.0,743.3 1529.5,744.3 1536.0,745.5 C1542.5,746.7 1548.9,748.1 1555.4,749.3 C1561.9,750.5 1568.3,751.6 1574.8,752.6 C1581.3,753.6 1588.8,754.6 1594.2,755.2 C1599.6,755.9 1597.9,756.1 1607.2,756.5 C1616.5,756.9 1650.0,757.5 1650.0,757.5" fill="none" stroke="#000" stroke-width="4.4" stroke-linejoin="round" stroke-linecap="butt"/>
<path d="M1099.1,174.6 C1099.1,174.6 1102.0,174.6 1102.0,174.6 C1102.0,174.6 1107.2,220.1 1109.5,240.0 C1111.8,259.9 1115.8,294.3 1115.8,294.3 C1115.8,294.3 1132.0,294.3 1132.0,294.3 C1132.0,294.3 1133.6,302.8 1135.0,309.8 C1136.4,316.8 1138.3,326.6 1140.4,336.5 C1142.5,346.4 1146.3,362.1 1147.6,369.4 C1148.9,376.6 1147.3,374.8 1148.4,380.0 C1149.5,385.2 1152.0,394.1 1154.0,400.8 C1156.0,407.5 1158.0,413.6 1160.4,420.0 C1162.8,426.4 1165.7,432.8 1168.4,439.2 C1171.1,445.6 1174.0,452.3 1176.4,458.4 C1178.8,464.5 1180.7,469.9 1182.8,476.0 C1184.9,482.1 1187.1,488.3 1189.2,495.2 C1191.3,502.1 1193.5,510.7 1195.6,517.6 C1197.7,524.5 1199.3,530.7 1202.0,536.8 C1204.7,542.9 1208.1,549.3 1211.6,554.4 C1215.1,559.5 1219.6,562.7 1222.8,567.2 C1226.0,571.7 1228.4,576.8 1230.8,581.6 C1233.2,586.4 1234.5,591.5 1237.2,596.0 C1239.9,600.5 1243.3,604.8 1246.8,608.8 C1250.3,612.8 1254.8,616.5 1258.0,620.0 C1261.2,623.5 1263.0,627.0 1266.0,630.0 C1269.0,633.0 1272.9,635.3 1276.3,638.2 C1279.7,641.1 1283.2,644.8 1286.6,647.5 C1290.0,650.2 1293.4,652.5 1296.8,654.7 C1300.2,656.9 1303.7,658.9 1307.1,660.8 C1310.5,662.7 1314.0,664.3 1317.4,666.0 C1320.8,667.7 1324.3,669.4 1327.7,671.1 C1331.1,672.8 1334.3,674.5 1338.0,676.3 C1341.7,678.1 1346.2,680.6 1350.0,681.9 C1353.8,683.2 1355.8,682.7 1360.8,684.0 C1365.8,685.3 1373.5,687.5 1380.0,689.6 C1386.5,691.8 1393.4,694.9 1400.0,696.9 C1406.6,698.9 1412.9,699.1 1419.4,701.4 C1425.9,703.7 1432.3,707.9 1438.8,710.5 C1445.3,713.1 1451.8,715.0 1458.3,717.0 C1464.8,719.0 1471.2,720.7 1477.7,722.2 C1484.2,723.7 1490.6,724.6 1497.1,726.0 C1503.6,727.4 1510.0,728.9 1516.5,730.6 C1523.0,732.3 1529.5,734.4 1536.0,736.4 C1542.5,738.4 1548.9,740.8 1555.4,742.9 C1561.9,745.0 1569.4,747.6 1574.8,749.3 C1580.2,751.0 1583.5,752.1 1587.8,753.2 C1592.1,754.3 1592.0,755.2 1600.7,755.8 C1609.4,756.4 1640.0,757.0 1640.0,757.0" fill="none" stroke="#0a0ad8" stroke-width="4.4" stroke-linejoin="round" stroke-linecap="butt"/>
<path d="M1099.1,168.2 C1099.1,168.2 1106.3,168.2 1106.3,168.2 C1106.3,168.2 1111.6,222.3 1113.5,240.0 C1115.4,257.7 1117.6,274.2 1117.6,274.2 C1117.6,274.2 1132.9,274.2 1132.9,274.2 C1132.9,274.2 1135.1,290.2 1137.0,300.0 C1138.9,309.8 1141.9,322.8 1144.3,332.9 C1146.7,342.9 1149.7,352.4 1151.6,360.3 C1153.5,368.2 1153.9,373.2 1155.6,380.0 C1157.3,386.8 1159.6,394.1 1162.0,400.8 C1164.4,407.5 1167.3,413.9 1170.0,420.0 C1172.7,426.1 1175.3,431.7 1178.0,437.6 C1180.7,443.5 1183.9,449.9 1186.0,455.2 C1188.1,460.5 1188.9,464.0 1190.8,469.6 C1192.7,475.2 1195.1,482.7 1197.2,488.8 C1199.3,494.9 1202.0,501.6 1203.6,506.4 C1205.2,511.2 1204.9,513.6 1206.8,517.6 C1208.7,521.6 1211.9,526.1 1214.8,530.4 C1217.7,534.7 1221.7,538.9 1224.4,543.2 C1227.1,547.5 1228.4,551.2 1230.8,556.0 C1233.2,560.8 1235.6,566.9 1238.8,572.0 C1242.0,577.1 1246.0,582.1 1250.0,586.4 C1254.0,590.7 1259.5,594.4 1262.8,597.6 C1266.1,600.8 1267.5,602.9 1270.0,605.6 C1272.5,608.3 1274.2,610.3 1277.6,613.6 C1281.0,616.9 1287.7,622.9 1290.4,625.6 C1293.1,628.3 1291.9,628.2 1293.8,630.0 C1295.7,631.8 1298.9,634.0 1302.0,636.2 C1305.1,638.4 1308.9,641.4 1312.3,643.4 C1315.7,645.4 1319.1,647.0 1322.5,648.5 C1325.9,650.0 1329.4,650.9 1332.8,652.6 C1336.2,654.3 1340.2,657.1 1343.1,658.8 C1346.0,660.5 1346.5,661.2 1350.0,662.9 C1353.5,664.6 1359.0,666.8 1364.0,668.8 C1369.0,670.8 1374.0,672.9 1380.0,675.2 C1386.0,677.5 1393.4,680.5 1400.0,682.7 C1406.6,684.9 1412.9,685.8 1419.4,688.5 C1425.9,691.2 1432.3,695.8 1438.8,698.8 C1445.3,701.8 1451.8,704.2 1458.3,706.6 C1464.8,709.0 1471.2,711.4 1477.7,713.1 C1484.2,714.8 1490.6,715.3 1497.1,717.0 C1503.6,718.7 1510.0,721.1 1516.5,723.4 C1523.0,725.7 1530.6,728.4 1536.0,730.6 C1541.4,732.8 1543.5,734.4 1548.9,736.4 C1554.3,738.4 1561.8,741.0 1568.3,742.9 C1574.8,744.8 1581.3,746.5 1587.8,748.0 C1594.3,749.5 1600.7,751.0 1607.2,751.9 C1613.7,752.8 1617.8,752.6 1626.6,753.2 C1635.4,753.9 1624.0,755.2 1660.0,755.8 C1696.0,756.3 1842.5,756.5 1842.5,756.5" fill="none" stroke="#e2141b" stroke-width="4.4" stroke-linejoin="round" stroke-linecap="butt"/>
</g>
<line x1="1500.2" y1="41.6" x2="1497" y2="758" stroke="#1a8080" stroke-width="5.2" stroke-dasharray="13 11.31" stroke-dashoffset="3.8"/>
<line x1="1497" y1="710.7" x2="1710" y2="710.7" stroke="#1a8080" stroke-width="3"/>
<polygon points="1725.0,710.7 1695.0,703.5 1704.0,710.7 1695.0,717.9" fill="#1a8080"/>
<line x1="1497" y1="721.7" x2="1708.4" y2="721.7" stroke="#1a8080" stroke-width="3"/>
<polygon points="1723.4,721.7 1693.4,714.5 1702.4,721.7 1693.4,728.9" fill="#1a8080"/>
<line x1="1497" y1="735.2" x2="1707" y2="735.2" stroke="#1a8080" stroke-width="3"/>
<polygon points="1722.0,735.2 1692.0,728.0 1701.0,735.2 1692.0,742.4" fill="#1a8080"/>
<line x1="1507.7" y1="207.8" x2="1590.0" y2="207.8" stroke="#0a0ad8" stroke-width="4.6" stroke-linecap="round"/>
<line x1="1507.7" y1="253.6" x2="1590.0" y2="253.6" stroke="#e2141b" stroke-width="4.6" stroke-linecap="round"/>
<line x1="1508.1000000000001" y1="299.2" x2="1589.6" y2="299.2" stroke="#000" stroke-width="5.4" stroke-linecap="round"/>
<text x="1597.99" y="219.40" font-size="31.5" textLength="197.43" lengthAdjust="spacingAndGlyphs">Landslide area</text>
<text x="1597.92" y="264.60" font-size="31.5" textLength="241.57" lengthAdjust="spacingAndGlyphs">Landslide volume</text>
<text x="1597.92" y="310.40" font-size="31.5" textLength="246.70" lengthAdjust="spacingAndGlyphs">Landslide number</text>
<text x="1220.97" y="115.60" font-size="34.5" textLength="146.00" lengthAdjust="spacingAndGlyphs">Hillslopes</text>
<text x="1595.90" y="103.40" font-size="34.5" textLength="232.69" lengthAdjust="spacingAndGlyphs">Fluvial Channel</text>
<line x1="1440" y1="100" x2="1568" y2="100" stroke="#000" stroke-width="3"/>
<polygon points="1426.1,100.0 1455.1,92.4 1447.3,100.0 1455.1,107.6" fill="#000"/>
<polygon points="1580.8,100.0 1551.8,92.4 1559.6,100.0 1551.8,107.6" fill="#000"/>
<text x="1270.55" y="360.50" font-size="34.3" font-weight="bold" font-style="italic" textLength="154.44" lengthAdjust="spacingAndGlyphs">Ac (0.2km</text>
<text x="1427.07" y="345.50" font-size="22.142857142857146" font-weight="bold" font-style="italic" textLength="9.83" lengthAdjust="spacingAndGlyphs">2</text>
<text x="1439.97" y="360.05" font-size="34.54545454545456" font-weight="bold" font-style="italic" textLength="10.08" lengthAdjust="spacingAndGlyphs">)</text>
<text x="1539.87" y="387.60" font-size="25.5" textLength="84.79" lengthAdjust="spacingAndGlyphs">Volume</text>
<text x="1660.92" y="387.60" font-size="25.5" textLength="48.12" lengthAdjust="spacingAndGlyphs">area</text>
<text x="1744.93" y="387.60" font-size="25.5" textLength="92.00" lengthAdjust="spacingAndGlyphs">Number</text>
<line x1="1524.8" y1="392.8" x2="1854" y2="392.8" stroke="#222" stroke-width="1.8"/>
<text x="1555.66" y="421.50" font-size="27" textLength="61.06" lengthAdjust="spacingAndGlyphs">7.2%</text>
<text x="1663.93" y="421.50" font-size="27" textLength="60.78" lengthAdjust="spacingAndGlyphs">4.5%</text>
<text x="1769.36" y="421.50" font-size="27" textLength="60.95" lengthAdjust="spacingAndGlyphs">2.8%</text>
<text x="1124.70" y="734.51" font-size="48.983957219251295" font-weight="bold" font-style="italic" textLength="65.69" lengthAdjust="spacingAndGlyphs" fill="#333">(b)</text>
<text x="1065.54" y="35.85" font-size="31">0</text>
<text x="1048.33" y="182.05" font-size="31">20</text>
<text x="1048.33" y="328.25" font-size="31">40</text>
<text x="1048.33" y="474.45" font-size="31">60</text>
<text x="1048.33" y="620.65" font-size="31">80</text>
<text x="1031.12" y="766.85" font-size="31">100</text>
<text x="1874.67" y="36.55" font-size="31">100</text>
<text x="1875.61" y="181.25" font-size="31">80</text>
<text x="1875.45" y="325.95" font-size="31">60</text>
<text x="1876.22" y="470.65" font-size="31">40</text>
<text x="1875.45" y="615.35" font-size="31">20</text>
<text x="1875.76" y="760.05" font-size="31">0</text>
<text x="1165.40" y="796.30" font-size="31.5" textLength="33.64" lengthAdjust="spacingAndGlyphs">10</text><text x="1199.78" y="782.60" font-size="21.7">-3</text>
<text x="1299.08" y="796.30" font-size="31.5" textLength="33.64" lengthAdjust="spacingAndGlyphs">10</text><text x="1333.46" y="782.60" font-size="21.7">-2</text>
<text x="1432.70" y="796.30" font-size="31.5" textLength="33.64" lengthAdjust="spacingAndGlyphs">10</text><text x="1467.08" y="782.60" font-size="21.7">-1</text>
<text x="1569.79" y="796.30" font-size="31.5" textLength="33.64" lengthAdjust="spacingAndGlyphs">10</text><text x="1604.28" y="782.60" font-size="21.7">0</text>
<text x="1703.90" y="796.30" font-size="31.5" textLength="33.64" lengthAdjust="spacingAndGlyphs">10</text><text x="1737.63" y="782.60" font-size="21.7">1</text>
<text x="1837.25" y="796.30" font-size="31.5" textLength="33.64" lengthAdjust="spacingAndGlyphs">10</text><text x="1871.52" y="782.60" font-size="21.7">2</text>
<text x="1220.96" y="846.90" font-size="32.5" textLength="492.25" lengthAdjust="spacingAndGlyphs">Upstream contributing area (km</text>
<text x="1714.09" y="831.80" font-size="23.4285714285714" textLength="13.45" lengthAdjust="spacingAndGlyphs">2</text>
<text x="1728.75" y="846.06" font-size="34.01069518716585" textLength="8.45" lengthAdjust="spacingAndGlyphs">)</text>
<text x="-1.75" y="0.00" font-size="35.1" textLength="430.97" lengthAdjust="spacingAndGlyphs" transform="translate(1026,585) rotate(-90)">Cumulative contribution (%)</text>
<text x="-2.75" y="0.00" font-size="34.3" textLength="530.41" lengthAdjust="spacingAndGlyphs" transform="translate(1930.6,156) rotate(90)">Landslide-channel connectivity (%)</text>
</svg></body></html>
